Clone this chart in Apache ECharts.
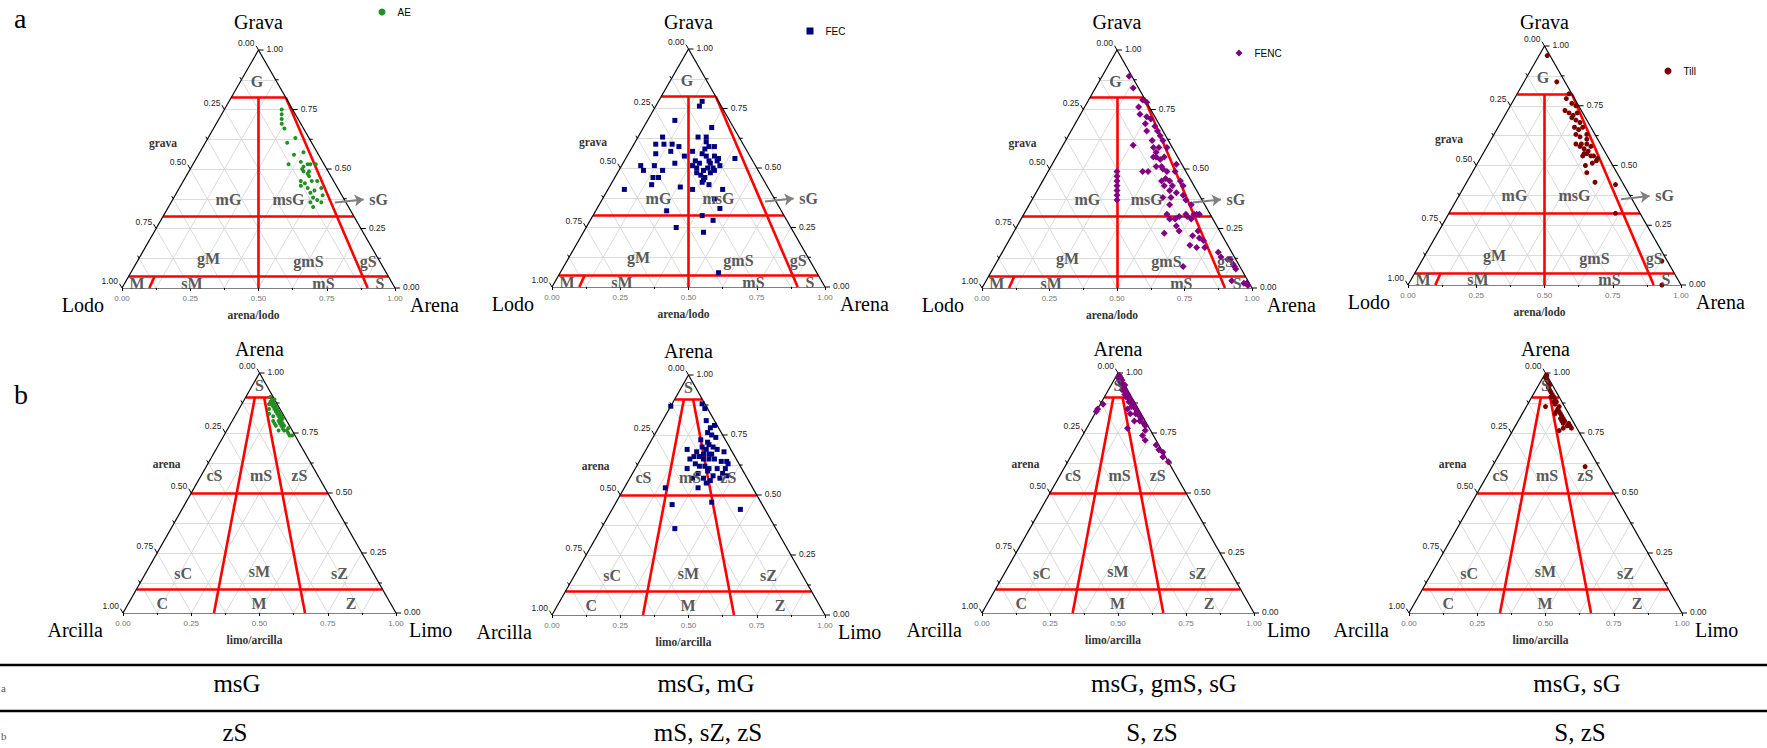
<!DOCTYPE html>
<html lang="es">
<head>
<meta charset="UTF-8">
<title>Diagramas ternarios de Folk</title>
<script src="https://cdn.jsdelivr.net/npm/echarts/dist/echarts.min.js"></script>
<style>
    html, body { margin: 0; padding: 0; background: #fff; }
    #chart { width: 1767px; height: 748px; }
</style>
</head>
<body>
<div id="chart"></div>
<script>
// a) grava, arena, lodo (%)
var gsmAE = [[75,21,4],[73,22,5],[71,23,6],[69,24,7],[67,26,7],[61,30,9],[63,32,5],[57,38,5],[56,35,9],[52,35,13],
    [53,39,8],[51,41,8],[52,42,6],[52,45,3],[49,42,9],[49,44,7],[48,44,8],[47,45,8],[45,43,12],[44,45,11],
    [45,47,8],[45,49,6],[43,44,13],[42,47,11],[41,50,9],[42,52,6],[40,49,11],[38,51,11],[37,53,10],[36,55,9],
    [36,51,13],[34,53,13],[39,54,7],[52,43,5],[50,41,9]];
var gsmFEC = [[78,16,6],[76,16,8],[70,10,20],[63,9,28],[60,8,32],[60,11,29],[60,14,26],[59,17,24],[56,10,34],[57,15,28],
    [55,21,24],[57,23,20],[63,22,15],[63,25,12],[67,25,8],[61,26,13],[58,27,15],[59,28,13],[59,30,11],[56,27,17],
    [55,29,16],[53,31,16],[53,34,13],[51,36,13],[50,34,16],[50,32,18],[49,31,20],[52,28,20],[50,28,22],[48,29,23],
    [47,31,22],[46,33,21],[48,34,18],[49,35,16],[51,12,37],[51,7,42],[49,9,42],[49,16,35],[46,14,40],[46,16,38],
    [43,15,42],[52,19,29],[42,26,32],[41,31,28],[44,33,23],[43,36,21],[41,42,17],[41,6,53],[32,26,42],[30,40,30],
    [28,45,27],[33,45,22],[25,33,42],[23,44,33],[6,58,36],[54,40,6],[37,41,22],[45,33,22],[51,26,23],[53,26,21],
    [52,32,16],[54,34,12],[55,32,13]];
var gsmFENC = [[89,10,1],[84,14,2],[79,20,1],[78,22,0],[76,20,4],[73,22,5],[72,25,3],[69,26,5],[71,27,2],[68,30,2],
    [66,32,2],[64,34,2],[66,28,6],[62,32,6],[59,34,7],[59,36,5],[60,26,14],[62,36,2],[59,39,2],[57,36,7],
    [55,37,8],[54,39,7],[55,40,5],[55,36,9],[49,35,16],[49,37,14],[51,39,10],[51,41,8],[50,42,8],[49,44,7],
    [52,46,2],[49,47,4],[46,45,9],[45,47,8],[45,44,11],[43,46,11],[43,49,8],[41,49,10],[45,51,4],[43,53,4],
    [40,52,8],[38,51,11],[38,48,14],[39,55,6],[37,57,6],[35,60,5],[31,64,5],[31,65,4],[31,63,6],[30,61,9],
    [29,63,8],[31,60,9],[30,58,12],[29,57,14],[29,55,16],[26,59,15],[24,61,15],[23,56,21],[22,67,11],[21,70,9],
    [18,68,14],[17,71,12],[20,72,8],[17,74,9],[15,80,5],[13,82,5],[12,85,3],[12,86,2],[10,88,2],[8,90,2],
    [9,89,2],[2,96,2],[2,97,1],[1,98,1],[3,91,6],[9,70,21],[24,68,8],[31,53,16],[35,52,13],
    [49,25.5,25.5],[47,26.5,26.5],[45,27.5,27.5],[43,28.5,28.5],[41,29.5,29.5],[39,30.5,30.5],[37,31.5,31.5]];
var gsmTill = [[96,3,1],[85,12,3],[80,19,1],[78,19,3],[76,22,2],[75,24,1],[73,21,6],[72,23,5],[71,25,4],[72,26,2],
    [70,25,5],[69,27,4],[68,29,3],[66,28,6],[65,30,5],[66,31,3],[63,30,7],[62,32,6],[63,34,3],[59,32,9],
    [59,34,7],[59,36,5],[58,34,8],[57,36,7],[56,38,6],[55,38,7],[54,40,6],[54,41,5],[52,43,5],[51,42,7],
    [53,43,4],[50,40,10],[47,42,11],[43,47,10],[42,55,3],[30,61,9],[10,88,2],[0,93,7],[55,37,8],[54,37,9],
    [58,38,4],[61,35,4]];

// b) arena, limo, arcilla (%)
var szcAE = [[90,9,1],[89,10,1],[89,11,0],[88,11,1],[88,10,2],[87,12,1],[87,11,2],[86,13,1],[86,12,2],[85,14,1],
    [85,13,2],[84,15,1],[84,14,2],[83,16,1],[83,15,2],[82,16,2],[82,17,1],[81,17,2],[81,18,1],[80,18,2],
    [80,17,3],[79,19,2],[79,18,3],[78,20,2],[78,19,3],[77,20,3],[77,22,1],[76,22,2],[76,21,3],[75,23,2],
    [74,25,1],[74,24,2],[87,10,3],[85,11,4],[83,12,5],[82,14,4],[80,15,5],[79,16,5],[78,17,5],[76,19,5]];
var szcFEC = [[87,0,13],[88,11,1],[86,13,1],[81,16,3],[78,19,3],[79,20,1],[76,19,5],[75,21,4],[74,23,3],[73,18,9],
    [72,21,7],[71,22,7],[70,24,6],[69,26,5],[69,15,16],[68,19,13],[67,22,11],[67,24,9],[67,25,8],[68,29,3],
    [66,21,13],[65,23,12],[65,25,10],[65,27,8],[64,30,6],[64,32,4],[63,33,4],[65,18,17],[66,19,15],[63,21,16],
    [62,25,13],[61,27,12],[61,30,9],[61,33,6],[61,19,20],[59,24,17],[60,27,13],[59,33,8],[57,23,20],[57,27,16],
    [56,30,14],[53,15,32],[53,27,20],[55,29,16],[46,21,33],[47,35,18],[44,47,9],[36,27,37],[58,30,12],[57,33,10],
    [58,35,7],[62,23,15],[70,20,10],[69,22,9]];
var szcFENC = [[99,1,0],[98,2,0],[98,1,1],[97,3,0],[97,2,1],[96,3,1],[95,4,1],[95,5,0],[94,5,1],[93,6,1],
    [93,5,2],[92,7,1],[91,8,1],[91,7,2],[90,9,1],[90,8,2],[89,10,1],[88,11,1],[88,10,2],[87,12,1],
    [86,13,1],[86,12,2],[85,14,1],[84,15,1],[83,16,1],[83,15,2],[82,17,1],[81,18,1],[80,18,2],[79,20,1],
    [78,21,1],[77,15,8],[76,22,2],[74,22,4],[72,24,4],[70,29,1],[68,31,1],[67,33,0],[65,34,1],[63,37,0],
    [87,1,12],[85,0,15],[84,0,16],[83,13,4],[80,16,4],[85,11,4]];
var szcTill = [[99,1,0],[98,1,1],[97,2,1],[96,3,1],[95,4,1],[94,4,2],[93,5,2],[92,6,2],[91,7,2],[90,8,2],
    [90,7,3],[89,9,2],[88,10,2],[88,9,3],[87,10,3],[86,12,2],[86,7,7],[85,12,3],[84,13,3],[84,12,4],
    [83,14,3],[83,12,5],[82,15,3],[81,16,3],[81,15,4],[80,17,3],[80,16,4],[79,19,2],[79,17,4],[78,19,3],
    [77,18,5],[76,17,7],[78,20,2],[77,21,2],[61,34,5]];

// limites de clases de Folk (composiciones de los extremos)
var gsmBounds = [[[80,20,0],[80,0,20]], [[30,70,0],[30,0,70]], [[5,95,0],[5,0,95]],
    [[0,50,50],[80,10,10]], [[0,90,10],[80,20,0]], [[0,10,90],[5,9.5,85.5]]];
var szcBounds = [[[90,10,0],[90,0,10]], [[50,50,0],[50,0,50]], [[10,90,0],[10,0,90]],
    [[0,100/3,200/3],[90,10/3,20/3]], [[0,200/3,100/3],[90,20/3,10/3]]];

var gsmClasses = ['G','mG','msG','sG','gM','gmS','gS','M','sM','mS','S'];
var szcClasses = ['S','cS','mS','zS','sC','sM','sZ','C','M','Z'];
var edgeTicks = [0, 0.25, 0.5, 0.75, 1];

var tableRow1 = ['msG', 'msG, mG', 'msG, gmS, sG', 'msG, sG'];
var tableRow2 = ['zS', 'mS, sZ, zS', 'S, zS', 'S, zS'];

// ---- layout (px) ----
var SERIF = 'Liberation Serif', SANS = 'Liberation Sans';
var gsmClassPos = [[.494,.867],[.390,.373],[.610,.373],[.940,.373],[.317,.122],[.683,.112],[.902,.112],
    [.055,.021],[.256,.021],[.738,.021],[.945,.021]];
var szcClassPos = [[.5,.95],[.335,.571],[.506,.571],[.646,.571],[.22,.164],[.5,.175],[.793,.164],
    [.144,.039],[.498,.039],[.835,.039]];

var sampleStyle = {
    AE:   { color: '#229022', symbol: 'circle',  size: 4, legend: [382, 13] },
    FEC:  { color: '#00007f', symbol: 'rect',    size: 5, legend: [810, 32] },
    FENC: { color: '#800080', symbol: 'diamond', size: 7, legend: [1239, 54] },
    Till: { color: '#7a0000', symbol: 'circle',  size: 5, legend: [1668, 72] }
};

var panels = [
    { kind: 'gsm', name: 'AE',   data: gsmAE,   box: [122, 50, 273, 238] },
    { kind: 'gsm', name: 'FEC',  data: gsmFEC,  box: [552, 49, 273, 238] },
    { kind: 'gsm', name: 'FENC', data: gsmFENC, box: [982, 50, 270, 238] },
    { kind: 'gsm', name: 'Till', data: gsmTill, box: [1408, 46, 273, 239] },
    { kind: 'szc', name: 'AE',   data: szcAE,   box: [123, 373, 273, 240] },
    { kind: 'szc', name: 'FEC',  data: szcFEC,  box: [552, 375, 273, 240] },
    { kind: 'szc', name: 'FENC', data: szcFENC, box: [982, 373, 272, 240] },
    { kind: 'szc', name: 'Till', data: szcTill, box: [1409, 373, 273, 240] }
];

// composicion (sup, der, izq) -> coordenadas del triangulo
function toXY(c) {
    var s = c[0] + c[1] + c[2];
    return [(c[1] + c[0] / 2) / s, c[0] / s];
}

function segs(list) {
    return list.map(function (s) { return { coords: s }; });
}

function gridLines() {
    var out = [];
    for (var k = 1; k < 8; k++) {
        var t = k / 8;
        out.push([[t / 2, t], [1 - t / 2, t]]);
        out.push([[t, 0], [(1 + t) / 2, 1 - t]]);
        out.push([[1 - t, 0], [(1 - t) / 2, 1 - t]]);
    }
    return out;
}

function textSeries(i, items) {
    return {
        type: 'custom', xAxisIndex: i, yAxisIndex: i, clip: false, silent: true, z: 6,
        data: items.map(function (t) { return t.at; }),
        renderItem: function (params, api) {
            var t = items[params.dataIndex];
            var p = api.coord([api.value(0), api.value(1)]);
            return {
                type: 'text', x: p[0] + (t.dx || 0), y: p[1] + (t.dy || 0),
                style: {
                    text: t.text, fill: t.color || '#000',
                    fontSize: t.size || 12, fontFamily: t.family || SERIF, fontWeight: t.weight || 'normal',
                    align: t.align || 'center', verticalAlign: 'middle'
                }
            };
        }
    };
}

function tickSeries(i) {
    var items = [];
    for (var k = 0; k <= 8; k++) {
        var g = k / 8, len = k % 2 ? 3 : 5;
        items.push([g / 2, g, -0.5, -0.866, len]);
        items.push([1 - g / 2, g, 1, 0, len]);
    }
    return {
        type: 'custom', xAxisIndex: i, yAxisIndex: i, clip: false, silent: true, z: 4,
        data: items,
        renderItem: function (params, api) {
            var p = api.coord([api.value(0), api.value(1)]);
            var l = api.value(4);
            return {
                type: 'line',
                shape: { x1: p[0], y1: p[1], x2: p[0] + api.value(2) * l, y2: p[1] + api.value(3) * l },
                style: { stroke: '#000', lineWidth: 1 }
            };
        }
    };
}

var grids = [], xAxes = [], yAxes = [], series = [], legends = [];

panels.forEach(function (p, i) {
    var gsm = p.kind === 'gsm';
    var st = sampleStyle[p.name];
    grids.push({ left: p.box[0], top: p.box[1], width: p.box[2], height: p.box[3] });
    xAxes.push({
        gridIndex: i, type: 'value', min: 0, max: 1, interval: 0.25,
        axisLine: { show: false }, splitLine: { show: false },
        axisTick: { show: true, length: 3, lineStyle: { color: '#000', width: 1 } },
        minorTick: { show: true, splitNumber: 2, length: 2, lineStyle: { color: '#000', width: 1 } },
        axisLabel: { fontSize: 8, color: '#777', margin: 6, fontFamily: SANS,
            formatter: function (v) { return v.toFixed(2); } }
    });
    yAxes.push({ gridIndex: i, type: 'value', min: 0, max: 1, show: false });

    var base = { xAxisIndex: i, yAxisIndex: i, coordinateSystem: 'cartesian2d', silent: true };
    series.push(Object.assign({
        type: 'lines', z: 1, data: segs(gridLines()),
        lineStyle: { color: '#d2d2d2', width: 0.8, opacity: 1 }
    }, base));
    series.push(Object.assign({
        type: 'lines', z: 3, data: segs([[[0, 0], [1, 0]], [[1, 0], [0.5, 1]], [[0.5, 1], [0, 0]]]),
        lineStyle: { color: '#000', width: 1.2, opacity: 1 }
    }, base));
    series.push(Object.assign({
        type: 'lines', z: 2,
        data: segs((gsm ? gsmBounds : szcBounds).map(function (b) { return [toXY(b[0]), toXY(b[1])]; })),
        lineStyle: { color: '#ff0000', width: 2.6, opacity: 1 }
    }, base));
    if (gsm) {
        series.push(Object.assign({
            type: 'lines', z: 3, symbol: ['none', 'arrow'], symbolSize: 9,
            data: segs([[[0.78, 0.359], [0.885, 0.372]]]),
            lineStyle: { color: '#808080', width: 2, opacity: 1 }
        }, base));
    }
    series.push(tickSeries(i));

    // textos
    var items = [];
    edgeTicks.forEach(function (g) {
        items.push({ at: [g / 2, g], text: (1 - g).toFixed(2), dx: -4, dy: -7, align: 'right',
            size: 8.5, family: SANS, color: '#222' });
        items.push({ at: [1 - g / 2, g], text: g.toFixed(2), dx: 8, dy: -1, align: 'left',
            size: 8.5, family: SANS, color: '#222' });
    });
    var names = gsm ? ['Grava', 'Lodo', 'Arena', 'arena/lodo', 'grava']
                    : ['Arena', 'Arcilla', 'Limo', 'limo/arcilla', 'arena'];
    items.push({ at: [0.5, 1], text: names[0], dy: gsm ? 22 - p.box[1] : -24, size: 20 });
    items.push({ at: [0, 0], text: names[1], dx: gsm ? -18 : -20, dy: 17, align: 'right', size: 20 });
    items.push({ at: [1, 0], text: names[2], dx: gsm ? 15 : 13, dy: 17, align: 'left', size: 20 });
    items.push({ at: [0.5, 0], text: names[3], dx: -5, dy: 27, size: 11.5, color: '#333', weight: 'bold' });
    items.push({ at: gsm ? [0.15, 0.61] : [0.16, 0.62], text: names[4], size: 11.5, color: '#333', weight: 'bold' });
    var cls = gsm ? gsmClasses : szcClasses;
    var pos = gsm ? gsmClassPos : szcClassPos;
    cls.forEach(function (c, k) {
        items.push({ at: pos[k], text: c, size: 16, weight: 'bold', color: '#5a5a5a' });
    });
    series.push(textSeries(i, items));

    series.push({
        type: 'scatter', name: p.name, xAxisIndex: i, yAxisIndex: i, z: 5,
        symbol: st.symbol, symbolSize: st.size, symbolKeepAspect: true, clip: false,
        itemStyle: { color: st.color, opacity: 1 },
        data: p.data.map(toXY)
    });

    if (gsm) {
        legends.push({
            data: [p.name], left: st.legend[0] - 3.5, top: st.legend[1] - 6,
            itemWidth: 7, itemHeight: 7, selectedMode: false, padding: 0,
            textStyle: { fontSize: 10, fontFamily: SANS, color: '#000', padding: [0, 0, 0, 7] }
        });
    }
});

// tabla inferior
var colX1 = [237, 706, 1164, 1577];
var colX2 = [235, 708, 1152, 1580];
var graphics = [
    { type: 'text', left: 14, top: 4, style: { text: 'a', fontSize: 28, fontFamily: SERIF, fill: '#000' } },
    { type: 'text', left: 14, top: 380, style: { text: 'b', fontSize: 28, fontFamily: SERIF, fill: '#000' } },
    { type: 'line', shape: { x1: 0, y1: 665, x2: 1767, y2: 665 }, style: { stroke: '#000', lineWidth: 2.5 } },
    { type: 'line', shape: { x1: 0, y1: 711, x2: 1767, y2: 711 }, style: { stroke: '#000', lineWidth: 2.5 } },
    { type: 'text', x: 1, y: 688, style: { text: 'a', fontSize: 11, fontFamily: SERIF, fill: '#555', align: 'left', verticalAlign: 'middle' } },
    { type: 'text', x: 1, y: 736, style: { text: 'b', fontSize: 11, fontFamily: SERIF, fill: '#555', align: 'left', verticalAlign: 'middle' } }
];
tableRow1.forEach(function (t, k) {
    graphics.push({ type: 'text', x: colX1[k], y: 683,
        style: { text: t, fontSize: 25, fontFamily: SERIF, fill: '#000', align: 'center', verticalAlign: 'middle' } });
});
tableRow2.forEach(function (t, k) {
    graphics.push({ type: 'text', x: colX2[k], y: 732,
        style: { text: t, fontSize: 25, fontFamily: SERIF, fill: '#000', align: 'center', verticalAlign: 'middle' } });
});

var chart = echarts.init(document.getElementById('chart'), null, { renderer: 'svg' });
chart.setOption({
    animation: false,
    backgroundColor: '#fff',
    grid: grids,
    xAxis: xAxes,
    yAxis: yAxes,
    legend: legends,
    series: series,
    graphic: graphics
});
</script>
</body>
</html>
